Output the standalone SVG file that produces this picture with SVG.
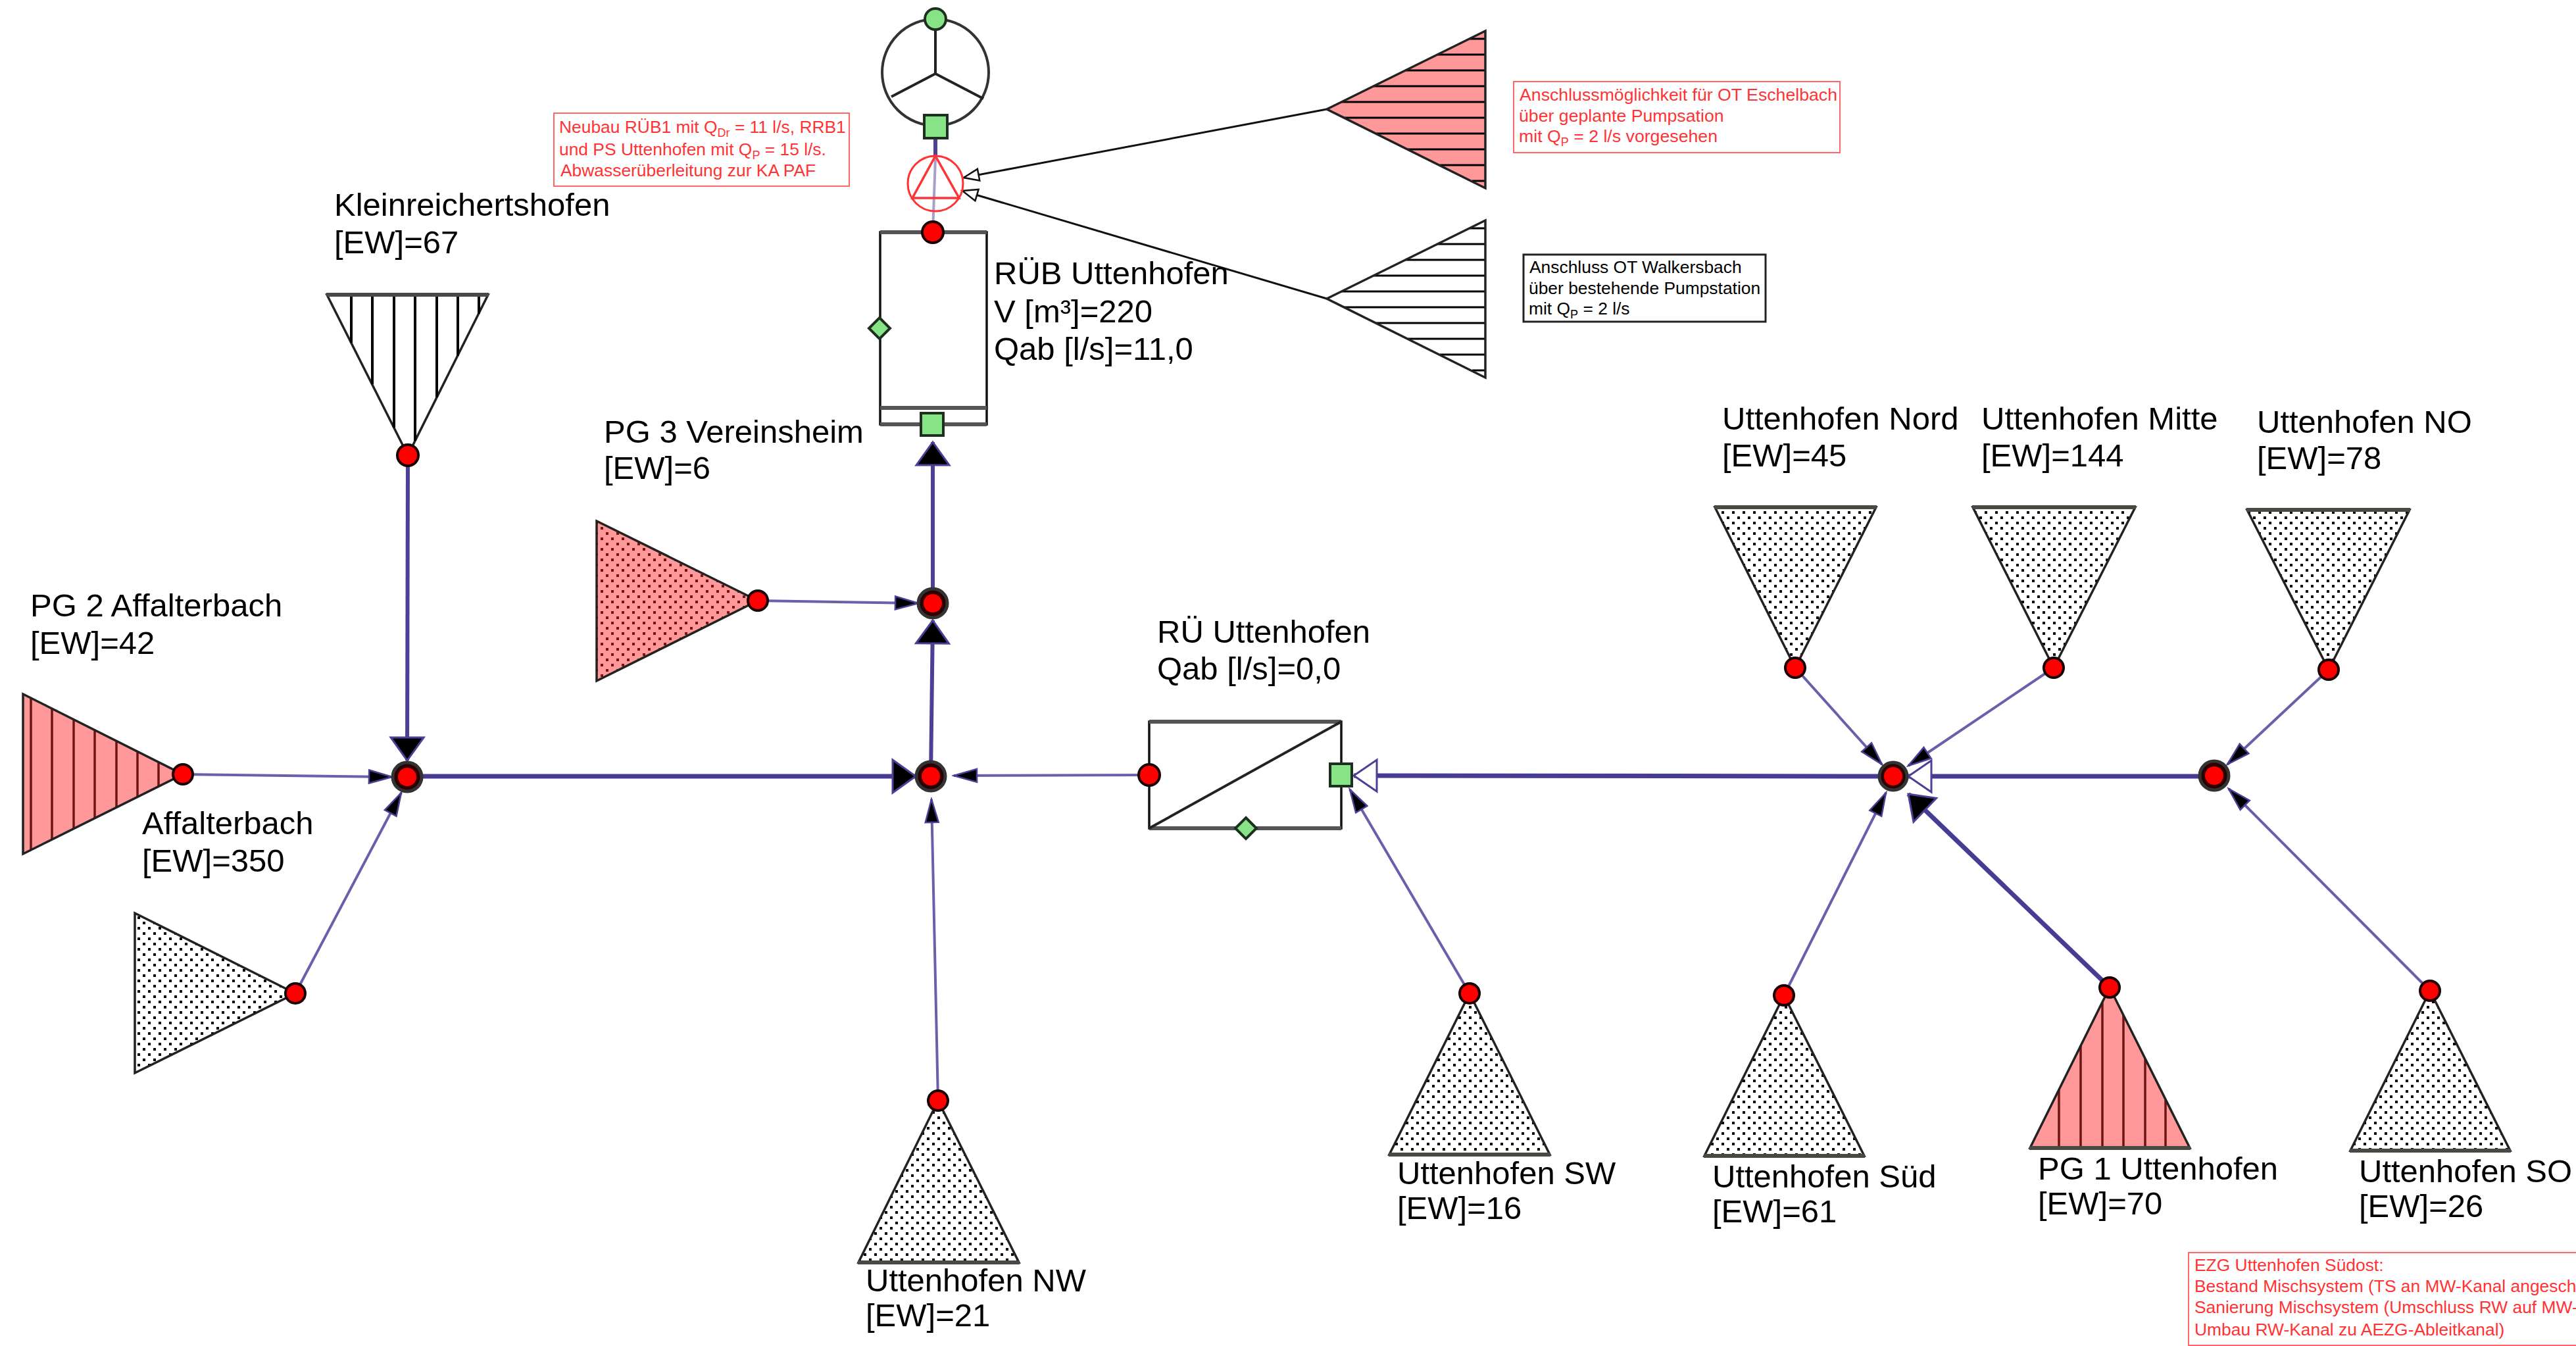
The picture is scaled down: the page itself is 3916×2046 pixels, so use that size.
<svg xmlns="http://www.w3.org/2000/svg" width="3916" height="2046" viewBox="0 0 3916 2046">
<style>
text{font-family:"Liberation Sans",Arial,sans-serif;fill:#000}
.lb{font-size:49px}
.nt{font-size:26.4px}
.r{fill:#ff3333}
.rb{fill:#fff;stroke:#ff6666;stroke-width:2}
.tri{stroke:#222;stroke-width:3.5;stroke-linejoin:miter}
.dot{fill:url(#dots)}
.pdot{fill:url(#pdots)}
.pk{fill:#ff9999}
.wh{fill:#fff}
.base{stroke:#4a4a44;stroke-width:6}
.hb{stroke:#000;stroke-width:4}
.hh{stroke:#000;stroke-width:3}
.hr{stroke:#6e1414;stroke-width:3.5}
.n{fill:#ff0000;stroke:#1a0000;stroke-width:4}
.jo{fill:#2a0000;stroke:#333;stroke-width:5}
.ji{fill:#ff0000}
.g{fill:#86e486;stroke:#1f2f1f;stroke-width:4}
.box{fill:#fff;stroke:#111;stroke-width:3.5}
.bar{stroke:#555;stroke-width:6}
.c{fill:none;stroke:#6a60aa;stroke-linecap:butt}
.t{stroke-width:4}
.m{stroke-width:6;stroke:#4b3f96}
.k{stroke-width:7;stroke:#473c93}
.x{fill:none;stroke:#111;stroke-width:3}
</style>
<defs>
<pattern id="dots" width="16" height="16" patternUnits="userSpaceOnUse"><rect width="16" height="16" fill="#fff"/><rect x="1" y="1" width="4" height="4" fill="#000"/><rect x="9" y="9" width="4" height="4" fill="#000"/></pattern>
<pattern id="pdots" width="16" height="16" patternUnits="userSpaceOnUse"><rect width="16" height="16" fill="#ff9999"/><rect x="1" y="1" width="4" height="4" fill="#7a1414"/><rect x="9" y="9" width="4" height="4" fill="#7a1414"/></pattern>
<marker id="as" markerUnits="userSpaceOnUse" viewBox="0 -14 40 28" refX="37" refY="0" markerWidth="40" markerHeight="28" orient="auto"><path d="M2,-10L37,0L2,10z" fill="#000" stroke="#4b3f96" stroke-width="2.5"/></marker>
<marker id="al" markerUnits="userSpaceOnUse" viewBox="0 -28 40 56" refX="37" refY="0" markerWidth="40" markerHeight="56" orient="auto"><path d="M2,-25L37,0L2,25z" fill="#000" stroke="#4b3f96" stroke-width="3"/></marker>
<marker id="ah" markerUnits="userSpaceOnUse" viewBox="0 -28 40 56" refX="37" refY="0" markerWidth="40" markerHeight="56" orient="auto"><path d="M2,-24L37,0L2,24z" fill="#fff" stroke="#4b3f96" stroke-width="3"/></marker>
<marker id="ab" markerUnits="userSpaceOnUse" viewBox="0 -12 28 24" refX="25" refY="0" markerWidth="28" markerHeight="24" orient="auto"><path d="M2,-9L25,0L2,9z" fill="#fff" stroke="#111" stroke-width="2.5"/></marker>
</defs>
<rect width="3916" height="2046" fill="#fff"/>

<g id="connectors">
<line class="x" x1="2017" y1="166" x2="1465" y2="270" marker-end="url(#ab)"/>
<line class="x" x1="2017" y1="454" x2="1463" y2="290" marker-end="url(#ab)"/>
<line class="c m" x1="620" y1="692" x2="619" y2="1156" marker-end="url(#al)"/>
<line class="c t" x1="278" y1="1177" x2="596" y2="1181" marker-end="url(#as)"/>
<line class="c t" x1="449" y1="1510" x2="610" y2="1205" marker-end="url(#as)"/>
<line class="c k" x1="619" y1="1180" x2="1392" y2="1180" marker-end="url(#al)"/>
<line class="c t" x1="1747" y1="1178" x2="1450" y2="1179" marker-end="url(#as)"/>
<line class="c t" x1="1426" y1="1673" x2="1416" y2="1215" marker-end="url(#as)"/>
<line class="c m" x1="1415" y1="1180" x2="1418" y2="943" marker-end="url(#al)"/>
<line class="c t" x1="1152" y1="913" x2="1396" y2="917" marker-end="url(#as)"/>
<line class="c m" x1="1418" y1="917" x2="1418" y2="672" marker-end="url(#al)"/>
<line class="c t" stroke-opacity=".6" x1="1418" y1="353" x2="1422" y2="240"/>
<line class="c m" x1="1422" y1="240" x2="1422" y2="208"/>
<line class="c k" x1="2878" y1="1180" x2="2058" y2="1179" marker-end="url(#ah)"/>
<line class="c t" x1="2234" y1="1510" x2="2052" y2="1200" marker-end="url(#as)"/>
<line class="c k" x1="3366" y1="1180" x2="2901" y2="1180" marker-end="url(#ah)"/>
<line class="c t" x1="2729" y1="1015" x2="2861" y2="1162" marker-end="url(#as)"/>
<line class="c t" x1="3122" y1="1015" x2="2901" y2="1164" marker-end="url(#as)"/>
<line class="c t" x1="2712" y1="1513" x2="2867" y2="1205" marker-end="url(#as)"/>
<line class="c k" x1="3207" y1="1501" x2="2901" y2="1207" marker-end="url(#al)"/>
<line class="c t" x1="3540" y1="1018" x2="3386" y2="1162" marker-end="url(#as)"/>
<line class="c t" x1="3694" y1="1506" x2="3388" y2="1199" marker-end="url(#as)"/>
</g>

<g id="pump">
<circle cx="1422" cy="110" r="81" fill="none" stroke="#333" stroke-width="4"/>
<path d="M1422,112V29M1422,112L1355,147M1422,112L1495,150" fill="none" stroke="#222" stroke-width="4"/>
<circle class="g" cx="1422" cy="29" r="16"/>
<rect class="g" x="1405" y="175" width="35" height="35"/>
</g>

<g id="pump-station-new">
<ellipse cx="1422" cy="279" rx="42" ry="42" fill="none" stroke="#ff3333" stroke-width="3"/>
<path d="M1422,237L1458,301H1387z" fill="none" stroke="#ff3333" stroke-width="3.5"/>
</g>

<g id="note-rueb">
<rect class="rb" x="842" y="172" width="449" height="111"/>
<text class="nt r" x="850" y="202">Neubau RÜB1 mit Q<tspan font-size="18" dy="6">Dr</tspan><tspan dy="-6"> = 11 l/s, RRB1</tspan></text>
<text class="nt r" x="850" y="236">und PS Uttenhofen mit Q<tspan font-size="18" dy="6">P</tspan><tspan dy="-6"> = 15 l/s.</tspan></text>
<text class="nt r" x="852" y="268">Abwasserüberleitung zur KA PAF</text>
</g>

<g id="rueb">
<rect class="box" x="1338" y="353" width="162" height="292"/>
<path class="bar" d="M1338,353H1500M1338,620H1500M1338,645H1500"/>
<circle class="n" cx="1418" cy="353" r="16"/>
<rect class="g" x="1400" y="628" width="34" height="34"/>
<path class="g" d="M1337,483L1353,499L1337,515L1321,499z"/>
<text class="lb" x="1511" y="432">RÜB Uttenhofen</text>
<text class="lb" x="1511" y="490">V [m³]=220</text>
<text class="lb" x="1511" y="547">Qab [l/s]=11,0</text>
</g>

<g id="eschelbach">
<path class="pk" d="M2017,166L2258,47V286z"/>
<path class="hh" d="M2234,59H2258M2185,83H2258M2136,107H2258M2088,131H2258M2039,155H2258M2043,179H2258M2092,203H2258M2140,227H2258M2189,251H2258M2238,275H2258"/>
<path class="tri" fill="none" d="M2017,166L2258,47V286z"/>
</g>
<g id="note-eschelbach">
<rect class="rb" x="2301" y="124" width="496" height="108"/>
<text class="nt r" x="2310" y="153" font-size="26.7" style="font-size:26.7px">Anschlussmöglichkeit für OT Eschelbach</text>
<text class="nt r" x="2309" y="185" style="font-size:26.7px">über geplante Pumpsation</text>
<text class="nt r" x="2309" y="216" style="font-size:26.7px">mit Q<tspan font-size="18" dy="6">P</tspan><tspan dy="-6"> = 2 l/s vorgesehen</tspan></text>
</g>

<g id="walkersbach">
<path class="hh" d="M2234,347H2258M2185,371H2258M2136,395H2258M2088,419H2258M2039,443H2258M2043,467H2258M2092,491H2258M2140,515H2258M2189,539H2258M2238,563H2258"/>
<path class="tri" fill="none" d="M2017,454L2258,335V574z"/>
</g>
<g id="note-walkersbach">
<rect x="2316" y="387" width="368" height="102" fill="#fff" stroke="#222" stroke-width="3"/>
<text class="nt" x="2325" y="415">Anschluss OT Walkersbach</text>
<text class="nt" x="2324" y="447">über bestehende Pumpstation</text>
<text class="nt" x="2324" y="478">mit Q<tspan font-size="18" dy="6">P</tspan><tspan dy="-6"> = 2 l/s</tspan></text>
</g>

<g id="kleinreichertshofen">
<path class="tri wh" d="M620,692L497,448H742z"/>
<path class="hb" d="M534,448V521M566,448V584M599,448V650M631,448V670M664,448V604M696,448V541M728,448V477"/>
<line class="base" x1="496" y1="448" x2="743" y2="448"/>
<circle class="n" cx="620" cy="692" r="16"/>
<text class="lb" x="508" y="328">Kleinreichertshofen</text>
<text class="lb" x="508" y="385">[EW]=67</text>
</g>

<g id="pg2-affalterbach">
<path class="pk" d="M278,1177L35,1055V1298z"/>
<path class="hr" d="M47,1061V1293M79,1077V1277M112,1094V1260M144,1110V1244M177,1126V1228M209,1142V1212M241,1158V1196"/>
<path class="tri" fill="none" d="M278,1177L35,1055V1298z"/>
<circle class="n" cx="278" cy="1177" r="15"/>
<text class="lb" x="46" y="937">PG 2 Affalterbach</text>
<text class="lb" x="46" y="994">[EW]=42</text>
</g>

<g id="affalterbach">
<path class="tri dot" d="M449,1510L205,1388V1631z"/>
<circle class="n" cx="449" cy="1510" r="15"/>
<text class="lb" x="216" y="1268">Affalterbach</text>
<text class="lb" x="216" y="1325">[EW]=350</text>
</g>

<g id="pg3-vereinsheim">
<path class="tri pdot" d="M1152,913L907,792V1035z"/>
<circle class="n" cx="1152" cy="913" r="15"/>
<text class="lb" x="918" y="673">PG 3 Vereinsheim</text>
<text class="lb" x="918" y="728">[EW]=6</text>
</g>

<g id="junction-1"><circle class="jo" cx="619" cy="1181" r="22"/><circle class="ji" cx="619" cy="1181" r="14"/></g>
<g id="junction-2"><circle class="jo" cx="1415" cy="1180" r="22"/><circle class="ji" cx="1415" cy="1180" r="14"/></g>
<g id="junction-3"><circle class="jo" cx="1418" cy="917" r="22"/><circle class="ji" cx="1418" cy="917" r="14"/></g>
<g id="junction-4"><circle class="jo" cx="2878" cy="1180" r="21"/><circle class="ji" cx="2878" cy="1180" r="14"/></g>
<g id="junction-5"><circle class="jo" cx="3366" cy="1179" r="22"/><circle class="ji" cx="3366" cy="1179" r="14"/></g>

<g id="rue-uttenhofen">
<rect class="box" x="1747" y="1097" width="292" height="162"/>
<path class="bar" d="M1747,1097H2039M1747,1259H2039"/>
<line x1="1747" y1="1259" x2="2039" y2="1097" stroke="#222" stroke-width="4"/>
<circle class="n" cx="1747" cy="1178" r="16"/>
<rect class="g" x="2022" y="1161" width="33" height="34"/>
<path class="g" d="M1894,1243L1910,1259L1894,1275L1878,1259z"/>
<text class="lb" x="1759" y="977">RÜ Uttenhofen</text>
<text class="lb" x="1759" y="1033">Qab [l/s]=0,0</text>
</g>

<g id="uttenhofen-nord">
<path class="tri dot" d="M2729,1015L2607,771H2852z"/>
<line class="base" x1="2606" y1="771" x2="2853" y2="771"/>
<circle class="n" cx="2729" cy="1015" r="15"/>
<text class="lb" x="2618" y="653">Uttenhofen Nord</text>
<text class="lb" x="2618" y="709">[EW]=45</text>
</g>
<g id="uttenhofen-mitte">
<path class="tri dot" d="M3122,1015L2999,771H3246z"/>
<line class="base" x1="2998" y1="771" x2="3247" y2="771"/>
<circle class="n" cx="3122" cy="1015" r="15"/>
<text class="lb" x="3012" y="653">Uttenhofen Mitte</text>
<text class="lb" x="3012" y="709">[EW]=144</text>
</g>
<g id="uttenhofen-no">
<path class="tri dot" d="M3540,1018L3416,775H3663z"/>
<line class="base" x1="3415" y1="775" x2="3664" y2="775"/>
<circle class="n" cx="3540" cy="1018" r="15"/>
<text class="lb" x="3431" y="658">Uttenhofen NO</text>
<text class="lb" x="3431" y="713">[EW]=78</text>
</g>
<g id="uttenhofen-sw">
<path class="tri dot" d="M2234,1510L2112,1755H2356z"/>
<line class="base" x1="2111" y1="1755" x2="2357" y2="1755"/>
<circle class="n" cx="2234" cy="1510" r="15"/>
<text class="lb" x="2124" y="1800">Uttenhofen SW</text>
<text class="lb" x="2124" y="1853">[EW]=16</text>
</g>
<g id="uttenhofen-sued">
<path class="tri dot" d="M2712,1513L2591,1757H2834z"/>
<line class="base" x1="2590" y1="1757" x2="2835" y2="1757"/>
<circle class="n" cx="2712" cy="1513" r="15"/>
<text class="lb" x="2603" y="1805">Uttenhofen Süd</text>
<text class="lb" x="2603" y="1858">[EW]=61</text>
</g>
<g id="pg1-uttenhofen">
<path class="pk" d="M3207,1501L3086,1745H3329z"/>
<path class="hr" d="M3130,1656V1745M3163,1589V1745M3196,1523V1745M3228,1543V1745M3261,1609V1745M3292,1672V1745"/>
<path class="tri" fill="none" d="M3207,1501L3086,1745H3329z"/>
<line class="base" x1="3085" y1="1745" x2="3330" y2="1745"/>
<circle class="n" cx="3207" cy="1501" r="15"/>
<text class="lb" x="3098" y="1793">PG 1 Uttenhofen</text>
<text class="lb" x="3098" y="1846">[EW]=70</text>
</g>
<g id="uttenhofen-so">
<path class="tri dot" d="M3694,1506L3573,1749H3816z"/>
<line class="base" x1="3572" y1="1749" x2="3817" y2="1749"/>
<circle class="n" cx="3694" cy="1506" r="15"/>
<text class="lb" x="3586" y="1797">Uttenhofen SO</text>
<text class="lb" x="3586" y="1850">[EW]=26</text>
</g>
<g id="uttenhofen-nw">
<path class="tri dot" d="M1426,1673L1305,1919H1549z"/>
<line class="base" x1="1304" y1="1919" x2="1550" y2="1919"/>
<circle class="n" cx="1426" cy="1673" r="15"/>
<text class="lb" x="1316" y="1963">Uttenhofen NW</text>
<text class="lb" x="1316" y="2016">[EW]=21</text>
</g>

<g id="note-ezg">
<rect class="rb" x="3327" y="1904" width="600" height="141"/>
<text class="nt r" x="3336" y="1932">EZG Uttenhofen Südost:</text>
<text class="nt r" x="3336" y="1964">Bestand Mischsystem (TS an MW-Kanal angesch</text>
<text class="nt r" x="3336" y="1996">Sanierung Mischsystem (Umschluss RW auf MW-</text>
<text class="nt r" x="3336" y="2030">Umbau RW-Kanal zu AEZG-Ableitkanal)</text>
</g>
</svg>
